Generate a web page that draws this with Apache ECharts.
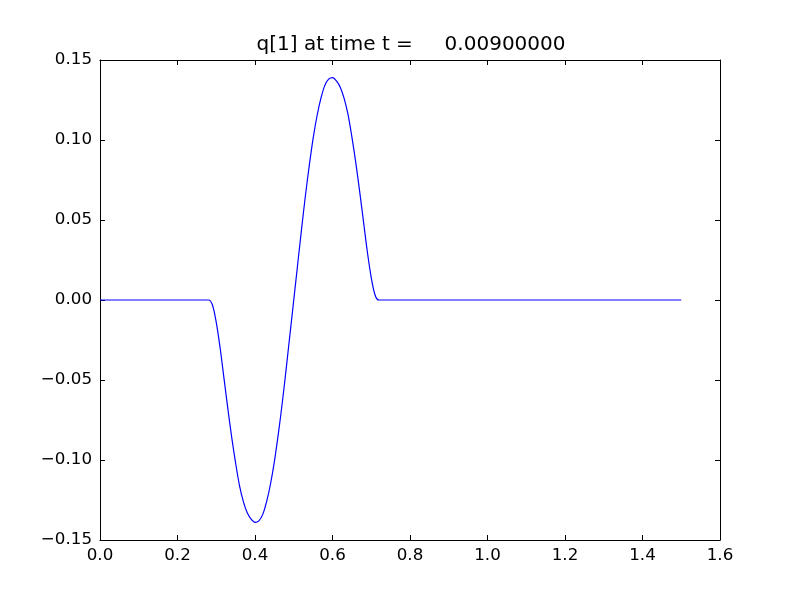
<!DOCTYPE html>
<html>
<head>
<meta charset="utf-8">
<script src="https://cdn.jsdelivr.net/npm/echarts@6/dist/echarts.min.js"></script>
<style>html,body{margin:0;padding:0;background:#fff}#c{width:800px;height:600px}</style>
</head>
<body>
<div id="c"></div>
<script>
const titleText = 'q[1] at time t =     0.00900000';
const xValues = [0.0, 0.28, 0.29, 0.30, 0.31, 0.32, 0.33, 0.34, 0.35, 0.36, 0.37, 0.38, 0.39, 0.40,
  0.41, 0.42, 0.43, 0.44, 0.45, 0.46, 0.47, 0.48, 0.49, 0.50,
  0.51, 0.52, 0.53, 0.54, 0.55, 0.56, 0.57, 0.58, 0.59, 0.60,
  0.61, 0.62, 0.63, 0.64, 0.65, 0.66, 0.67, 0.68, 0.69, 0.70, 0.71, 0.72, 1.5];
const qValues = [0.0, 0.0, -0.003, -0.014, -0.030, -0.049, -0.068, -0.086, -0.102, -0.116, -0.126, -0.133, -0.137, -0.139,
  -0.138, -0.134, -0.126, -0.115, -0.101, -0.084, -0.065, -0.044, -0.022, 0.0,
  0.022, 0.044, 0.065, 0.084, 0.101, 0.115, 0.126, 0.134, 0.138, 0.139,
  0.137, 0.133, 0.126, 0.116, 0.102, 0.086, 0.068, 0.049, 0.030, 0.014, 0.003, 0.0, 0.0];
const xTicks = {min: 0, max: 1.6, step: 0.2};
const yTicks = {min: -0.15, max: 0.15, step: 0.05};

const font = 'DejaVu Sans';
const fmtY = v => Math.abs(v) < 1e-9 ? '0.00' : (v < 0 ? '\u2212' : '') + Math.abs(v).toFixed(2);
const fmtX = v => v.toFixed(1);
const lineBlack = {show: true, onZero: false, lineStyle: {color: '#000', width: 1}};
const tickIn = {show: true, inside: true, length: 5, lineStyle: {color: '#000', width: 1}};

const chart = echarts.init(document.getElementById('c'), null, {renderer: 'canvas'});
chart.setOption({
  animation: false,
  backgroundColor: '#fff',
  title: {
    text: titleText, left: 406, top: 30, textAlign: 'center',
    textStyle: {fontFamily: font, fontSize: 20, fontWeight: 'normal', color: '#000'}
  },
  grid: {left: 100, right: 80, top: 60, bottom: 60, containLabel: false},
  xAxis: [
    {type: 'value', min: xTicks.min, max: xTicks.max, interval: xTicks.step, position: 'bottom',
     axisLine: lineBlack, axisTick: tickIn, splitLine: {show: false},
     axisLabel: {formatter: fmtX, fontFamily: font, fontSize: 16.7, color: '#000', margin: 7}},
    {type: 'value', min: xTicks.min, max: xTicks.max, interval: xTicks.step, position: 'top',
     axisLine: lineBlack, axisTick: tickIn, splitLine: {show: false}, axisLabel: {show: false}}
  ],
  yAxis: [
    {type: 'value', min: yTicks.min, max: yTicks.max, interval: yTicks.step, position: 'left',
     axisLine: lineBlack, axisTick: tickIn, splitLine: {show: false},
     axisLabel: {formatter: fmtY, fontFamily: font, fontSize: 16.7, color: '#000', margin: 8}},
    {type: 'value', min: yTicks.min, max: yTicks.max, interval: yTicks.step, position: 'right',
     axisLine: lineBlack, axisTick: tickIn, splitLine: {show: false}, axisLabel: {show: false}}
  ],
  series: [{
    type: 'line', xAxisIndex: 0, yAxisIndex: 0,
    data: xValues.map((x, i) => [x, qValues[i]]),
    showSymbol: false, smooth: 0.3,
    lineStyle: {color: '#0000ff', width: 1.2}
  }]
});
</script>
</body>
</html>
